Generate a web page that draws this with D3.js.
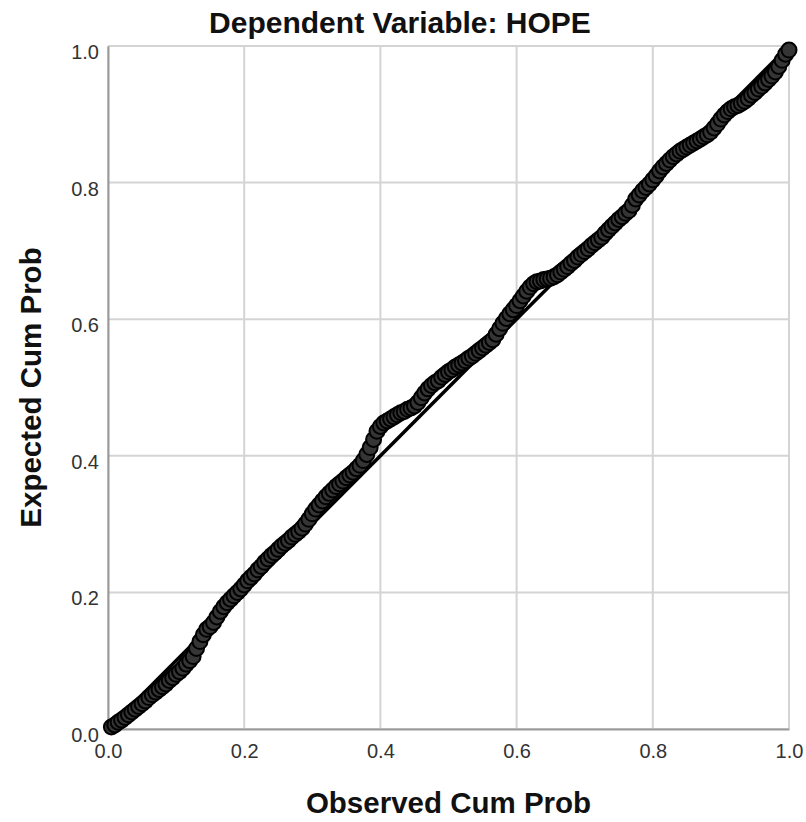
<!DOCTYPE html>
<html>
<head>
<meta charset="utf-8">
<script src="https://cdn.jsdelivr.net/npm/d3@7"></script>
<style>
  body { margin: 0; background: #fff; }
  svg text { font-family: "Liberation Sans", Arial, sans-serif; }
</style>
</head>
<body>
<div id="chart"></div>
<script>
// P-P plot of regression standardized residual
const observedCumProb = [
  0.005, 0.010, 0.015, 0.020, 0.025, 0.030, 0.035, 0.040, 0.045, 0.050,
  0.055, 0.060, 0.065, 0.070, 0.075, 0.080, 0.085, 0.090, 0.095, 0.100,
  0.105, 0.110, 0.115, 0.120, 0.125, 0.130, 0.135, 0.140, 0.145, 0.150,
  0.155, 0.160, 0.165, 0.170, 0.175, 0.180, 0.185, 0.190, 0.195, 0.200,
  0.205, 0.210, 0.215, 0.220, 0.225, 0.230, 0.235, 0.240, 0.245, 0.250,
  0.255, 0.260, 0.265, 0.270, 0.275, 0.280, 0.285, 0.290, 0.295, 0.300,
  0.305, 0.310, 0.315, 0.320, 0.325, 0.330, 0.335, 0.340, 0.345, 0.350,
  0.355, 0.360, 0.365, 0.370, 0.375, 0.380, 0.385, 0.390, 0.395, 0.400,
  0.405, 0.410, 0.415, 0.420, 0.425, 0.430, 0.435, 0.440, 0.445, 0.450,
  0.455, 0.460, 0.465, 0.470, 0.475, 0.480, 0.485, 0.490, 0.495, 0.500,
  0.505, 0.510, 0.515, 0.520, 0.525, 0.530, 0.535, 0.540, 0.545, 0.550,
  0.555, 0.560, 0.565, 0.570, 0.575, 0.580, 0.585, 0.590, 0.595, 0.600,
  0.605, 0.610, 0.615, 0.620, 0.625, 0.630, 0.635, 0.640, 0.645, 0.650,
  0.655, 0.660, 0.665, 0.670, 0.675, 0.680, 0.685, 0.690, 0.695, 0.700,
  0.705, 0.710, 0.715, 0.720, 0.725, 0.730, 0.735, 0.740, 0.745, 0.750,
  0.755, 0.760, 0.765, 0.770, 0.775, 0.780, 0.785, 0.790, 0.795, 0.800,
  0.805, 0.810, 0.815, 0.820, 0.825, 0.830, 0.835, 0.840, 0.845, 0.850,
  0.855, 0.860, 0.865, 0.870, 0.875, 0.880, 0.885, 0.890, 0.895, 0.900,
  0.905, 0.910, 0.915, 0.920, 0.925, 0.930, 0.935, 0.940, 0.945, 0.950,
  0.955, 0.960, 0.965, 0.970, 0.975, 0.980, 0.985, 0.990, 0.995, 1.000
];
const expectedCumProb = [
  0.003, 0.006, 0.010, 0.013, 0.017, 0.021, 0.025, 0.029, 0.033, 0.037,
  0.041, 0.046, 0.050, 0.054, 0.058, 0.062, 0.066, 0.071, 0.075, 0.080,
  0.084, 0.089, 0.095, 0.100, 0.106, 0.118, 0.128, 0.138, 0.146, 0.150,
  0.156, 0.164, 0.172, 0.179, 0.185, 0.190, 0.195, 0.200, 0.205, 0.211,
  0.217, 0.222, 0.227, 0.233, 0.238, 0.244, 0.249, 0.254, 0.258, 0.263,
  0.268, 0.272, 0.276, 0.281, 0.285, 0.289, 0.294, 0.300, 0.307, 0.315,
  0.322, 0.328, 0.334, 0.340, 0.345, 0.350, 0.355, 0.359, 0.363, 0.368,
  0.372, 0.376, 0.381, 0.386, 0.393, 0.402, 0.412, 0.424, 0.436, 0.443,
  0.448, 0.451, 0.454, 0.457, 0.460, 0.463, 0.465, 0.468, 0.470, 0.473,
  0.478, 0.485, 0.492, 0.498, 0.503, 0.507, 0.510, 0.515, 0.519, 0.523,
  0.526, 0.530, 0.533, 0.536, 0.539, 0.543, 0.546, 0.550, 0.554, 0.558,
  0.562, 0.566, 0.570, 0.578, 0.586, 0.594, 0.601, 0.608, 0.614, 0.620,
  0.627, 0.634, 0.641, 0.647, 0.652, 0.655, 0.656, 0.658, 0.659, 0.660,
  0.662, 0.665, 0.669, 0.673, 0.677, 0.682, 0.686, 0.691, 0.695, 0.699,
  0.703, 0.708, 0.712, 0.716, 0.720, 0.726, 0.731, 0.736, 0.741, 0.746,
  0.750, 0.755, 0.759, 0.767, 0.776, 0.782, 0.788, 0.793, 0.798, 0.804,
  0.810, 0.817, 0.823, 0.828, 0.833, 0.838, 0.842, 0.846, 0.849, 0.852,
  0.855, 0.858, 0.861, 0.864, 0.867, 0.870, 0.874, 0.880, 0.886, 0.893,
  0.899, 0.904, 0.908, 0.911, 0.913, 0.916, 0.919, 0.923, 0.928, 0.932,
  0.937, 0.941, 0.946, 0.951, 0.956, 0.962, 0.970, 0.979, 0.988, 0.994
];
const tickValues = [0, 0.2, 0.4, 0.6, 0.8, 1.0];
const refLine = [0, 1];

const titleText = "Dependent Variable: HOPE";
const xLabel = "Observed Cum Prob";
const yLabel = "Expected Cum Prob";

const width = 806;
const height = 822;
const margin = { top: 46, right: 17, bottom: 93, left: 108 };
const innerW = width - margin.left - margin.right;
const innerH = height - margin.top - margin.bottom;

const svg = d3.select("#chart")
  .append("svg")
  .attr("width", width)
  .attr("height", height);

const x = d3.scaleLinear().domain([0, 1]).range([margin.left, margin.left + innerW]);
const y = d3.scaleLinear().domain([0, 1]).range([margin.top + innerH, margin.top]);

// gridlines
const grid = svg.append("g").attr("class", "grid");
grid.selectAll("line.gx")
  .data(tickValues)
  .join("line")
  .attr("class", "gx")
  .attr("x1", d => x(d)).attr("x2", d => x(d))
  .attr("y1", y(0)).attr("y2", y(1))
  .attr("stroke", "#d4d4d4")
  .attr("stroke-width", 2);
grid.selectAll("line.gy")
  .data(tickValues)
  .join("line")
  .attr("class", "gy")
  .attr("x1", x(0)).attr("x2", x(1))
  .attr("y1", d => y(d)).attr("y2", d => y(d))
  .attr("stroke", "#d4d4d4")
  .attr("stroke-width", 2);

// axes (left & bottom frame lines a bit darker)
const xAxis = svg.append("g")
  .attr("transform", `translate(0,${y(0)})`)
  .call(d3.axisBottom(x).tickValues(tickValues).tickFormat(d3.format(".1f")).tickSize(0).tickPadding(15));
const yAxis = svg.append("g")
  .attr("transform", `translate(${x(0)},0)`)
  .call(d3.axisLeft(y).tickValues(tickValues).tickFormat(d3.format(".1f")).tickSize(0).tickPadding(9));

[xAxis, yAxis].forEach(g => {
  g.select(".domain").attr("stroke", "#9a9a9a").attr("stroke-width", 2);
  g.selectAll("text")
    .attr("fill", "#333")
    .style("font-size", "20px");
});
yAxis.selectAll("text").attr("dy", "0.62em");

// reference line
svg.append("line")
  .attr("x1", x(refLine[0])).attr("y1", y(refLine[0]))
  .attr("x2", x(refLine[1])).attr("y2", y(refLine[1]))
  .attr("stroke", "#000")
  .attr("stroke-width", 3.5);

// points
svg.append("g")
  .selectAll("circle")
  .data(observedCumProb.map((o, i) => ({ o, e: expectedCumProb[i] })))
  .join("circle")
  .attr("cx", d => x(d.o))
  .attr("cy", d => y(d.e))
  .attr("r", 7.5)
  .attr("fill", "#353535")
  .attr("stroke", "#000")
  .attr("stroke-width", 2);

// title and axis labels
svg.append("text")
  .attr("x", 400)
  .attr("y", 33)
  .attr("text-anchor", "middle")
  .style("font-size", "30px")
  .style("font-weight", "bold")
  .attr("fill", "#111")
  .text(titleText);

svg.append("text")
  .attr("x", x(0.5))
  .attr("y", 813)
  .attr("text-anchor", "middle")
  .style("font-size", "29.5px")
  .style("font-weight", "bold")
  .attr("fill", "#111")
  .text(xLabel);

svg.append("text")
  .attr("transform", `translate(41,${y(0.5)}) rotate(-90)`)
  .attr("text-anchor", "middle")
  .style("font-size", "29.5px")
  .style("font-weight", "bold")
  .attr("fill", "#111")
  .text(yLabel);
</script>
</body>
</html>
